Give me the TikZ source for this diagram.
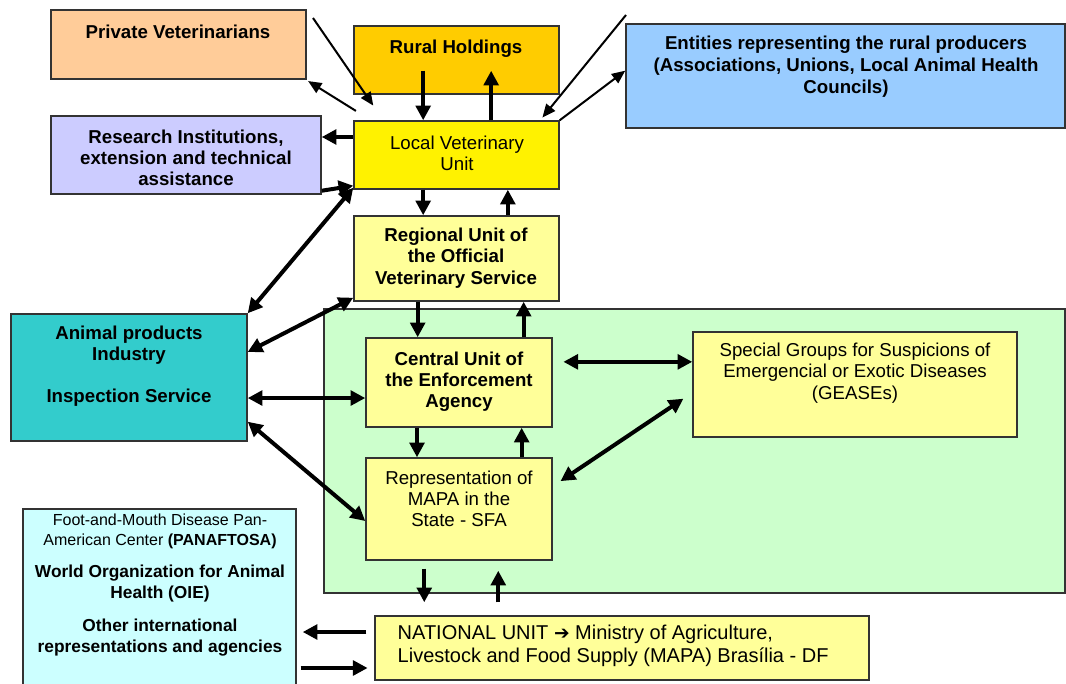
\documentclass[tikz,border=0pt]{standalone}
\usepackage{fontspec}
\setmainfont{Liberation Sans}
\newfontfamily\symfont{DejaVu Sans}
\usetikzlibrary{arrows.meta,fit}

\definecolor{peach}{HTML}{FFCC99}
\definecolor{rural}{HTML}{FFCC00}
\definecolor{sky}{HTML}{99CCFF}
\definecolor{lilac}{HTML}{CCCCFF}
\definecolor{paleyel}{HTML}{FFFF99}
\definecolor{mint}{HTML}{CCFFCC}
\definecolor{teal}{HTML}{33CCCC}
\definecolor{aqua}{HTML}{CCFFFF}

\tikzset{
  box/.style={draw=black!80, line width=1.1pt, inner sep=0pt},
  bt/.style={font=\fontsize{14}{15.9}\selectfont\bfseries, align=center},
  nt/.style={font=\fontsize{14}{15.9}\selectfont, align=center},
  fat/.style={line width=3pt, -{Triangle[length=11pt,width=11pt]}},
  fatboth/.style={line width=3pt, {Triangle[length=11pt,width=11pt]}-{Triangle[length=11pt,width=11pt]}},
  slim/.style={line width=1.5pt, -{Triangle[length=10pt,width=8.5pt]}}
}

\begin{document}
\begin{tikzpicture}[x=0.75pt,y=-0.75pt]
        \useasboundingbox (0,0) rectangle (1066,684);

        % top row
        \node[box, fill=peach, fit={(51,10) (306,79)}] (pv) {};
        \node[bt] (pvtxt) at (178,32) {Private Veterinarians};

        \node[box, fill=rural, fit={(354,26) (559,94)}] (rh) {};
        \node[bt] (rhtxt) at (456,49) {Rural Holdings};

        \node[box, fill=sky, fit={(626,24) (1065,128)}] (ent) {};
        \node[bt, font=\fontsize{14}{16.5}\selectfont\bfseries] (enttxt) at (846,67) {Entities representing the rural producers\\(Associations, Unions, Local Animal Health\\Councils)};

        \node[box, fill=yellow, fit={(354,121) (559,189)}] (lvu) {};
        \node[nt] (lvutxt) at (457,153) {Local Veterinary\\Unit};

        \node[box, fill=lilac, fit={(51,116) (321,194)}] (res) {};
        \node[bt] (restxt) at (186,158) {Research Institutions,\\extension and technical\\assistance};

        \node[box, fill=paleyel, fit={(354,216) (559,301)}] (reg) {};
        \node[bt] (regtxt) at (456,258) {Regional Unit of\\the Official\\Veterinary Service};

        % state level
        \node[box, line width=0.9pt, fill=mint, fit={(324,309) (1065,593)}] (state) {};

        \node[box, fill=teal, fit={(11,314) (247,441)}] (ani) {};
        \node[bt] (anitxt) at (129,345) {Animal products\\Industry};
        \node[bt] (insptxt) at (129,398) {Inspection Service};

        \node[box, fill=paleyel, fit={(366,338) (552,427)}] (cen) {};
        \node[bt] (centxt) at (459,382) {Central Unit of\\the Enforcement\\Agency};

        \node[box, fill=paleyel, fit={(693,332) (1017,437)}] (spec) {};
        \node[nt] (spectxt) at (855,373) {Special Groups for Suspicions of\\Emergencial or Exotic Diseases\\(GEASEs)};

        \node[box, fill=paleyel, fit={(366,458) (552,560)}] (rep) {};
        \node[nt] (reptxt) at (459,499) {Representation of\\MAPA in the\\State - SFA};

        % national level
        \node[box, fill=aqua, fit={(23,509) (296,700)}] (intl) {};
        \node[align=center, font=\fontsize{12}{15}\selectfont] (intl1) at (160,531) {Foot-and-Mouth Disease Pan-\\American Center \textbf{(PANAFTOSA)}};
        \node[bt, font=\fontsize{13}{15.75}\selectfont\bfseries] (intl2) at (160,583.5) {World Organization for Animal\\Health (OIE)};
        \node[bt, font=\fontsize{13}{15.75}\selectfont\bfseries] (intl3) at (160,637.5) {Other international\\representations and agencies};

        \node[box, fill=paleyel, fit={(375,616) (869,680)}] (nat) {};
        \node[anchor=west, align=left, font=\fontsize{15}{17.25}\selectfont] (nattxt) at (393,645.5) {NATIONAL UNIT {\symfont\fontsize{14}{14}\selectfont ➔} Ministry of Agriculture,\\Livestock and Food Supply (MAPA) Brasília - DF};

        % connectors around the local unit
        \coordinate (pvin) at (313,18);
        \coordinate (entin) at (626,15);
        \draw[slim] (pvin) -- ([xshift=15pt,yshift=11pt]lvu.north west);
        \draw[slim] ([xshift=2pt,yshift=7pt]lvu.north west) -- ([xshift=1pt,yshift=-1pt]pv.south east);
        \draw[fat] ([xshift=-25pt,yshift=18pt]rh.south) -- ([xshift=-25pt]lvu.north);
        \draw[fat] ([xshift=26pt]lvu.north) -- ([xshift=26pt,yshift=18pt]rh.south);
        \draw[slim] (entin) -- ([xshift=-13pt,yshift=2pt]lvu.north east);
        \draw[slim] (lvu.north east) -- ([yshift=4pt]ent.west);
        \draw[fat] ([yshift=13.5pt]lvu.west) -- ([yshift=13.5pt]lvu.west -| res.east);
        \draw[fat] ([yshift=3pt]res.south east) -- ([yshift=3pt]lvu.south west);
        \draw[fatboth] (ani.north east) -- ([yshift=1.5pt]lvu.south west);
        \draw[fat] ([xshift=-25pt]lvu.south) -- ([xshift=-25pt]lvu.south |- reg.north);
        \draw[fat] ([xshift=38.5pt]reg.north) -- ([xshift=38.5pt]reg.north |- lvu.south);

        % connectors around the state unit
        \draw[fatboth] ([yshift=3pt]reg.south west) -- ([yshift=-29pt]ani.north east);
        \draw[fat] ([xshift=-31pt]cen.north |- reg.south) -- ([xshift=-31pt]cen.north);
        \draw[fat] ([xshift=48.5pt]cen.north) -- ([xshift=48.5pt]cen.north |- reg.south);
        \draw[fatboth] ([yshift=-15.4pt]ani.east) -- ([yshift=-15.4pt]ani.east -| cen.west);
        \draw[fat] ([xshift=-31.5pt]cen.south) -- ([xshift=-31.5pt]cen.south |- rep.north);
        \draw[fat] ([xshift=47pt]rep.north) -- ([xshift=47pt]rep.north |- cen.south);
        \draw[fatboth] ([yshift=15pt]ani.south east) -- ([yshift=-9pt]rep.west);
        \draw[fatboth, shorten >=8pt] ([yshift=17pt]spec.west) -- ([yshift=17pt]spec.west -| cen.east);
        \draw[fatboth, shorten <=7pt, shorten >=8pt] ([yshift=17pt]rep.east) -- ([yshift=33.75pt]spec.south west);

        % connectors to the national unit
        \draw[fat, shorten <=6pt, shorten >=9.75pt] ([xshift=37.5pt]nat.north west |- rep.south) -- ([xshift=37.5pt]nat.north west);
        \draw[fat, shorten <=9.75pt, shorten >=7.5pt] ([xshift=93pt]nat.north west) -- ([xshift=93pt]nat.north west |- rep.south);
        \draw[fat, shorten <=6pt, shorten >=4.5pt] ([yshift=12pt]nat.west) -- ([yshift=12pt]nat.west -| intl.east);
        \draw[fat, shorten <=3pt, shorten >=5pt] ([yshift=-15pt]nat.west -| intl.east) -- ([yshift=-15pt]nat.west);

\end{tikzpicture}
\end{document}
